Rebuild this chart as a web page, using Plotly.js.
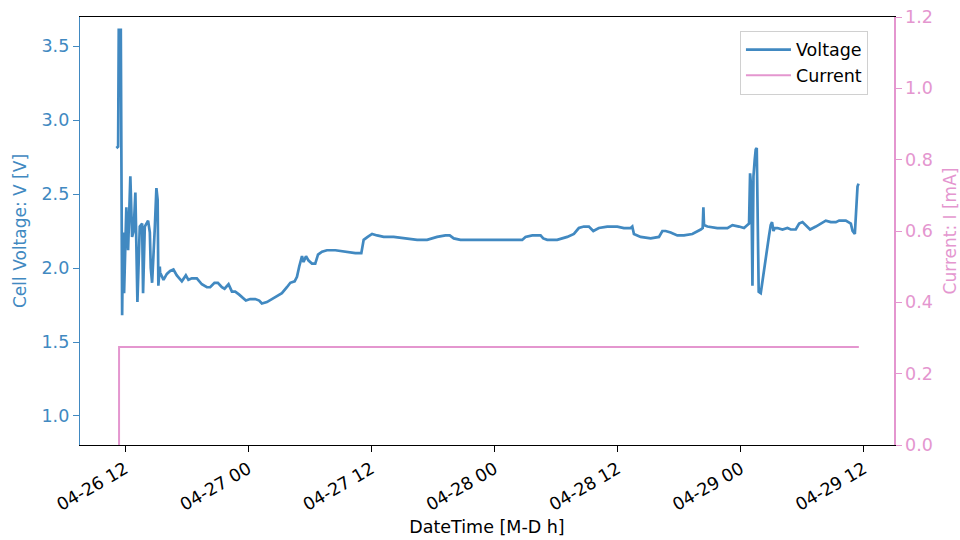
<!DOCTYPE html>
<html>
<head>
<meta charset="utf-8">
<script src="https://cdn.plot.ly/plotly-3.0.1.min.js"></script>
<style>
  html, body { margin: 0; padding: 0; background: #fff; }
  #chart { width: 960px; height: 540px; }
</style>
</head>
<body>
<div id="chart"></div>
<script>
// Logging start (local time), elapsed hours are measured from here
const logStart = [2023, 3, 26, 11, 7];

// Cell voltage log: elapsed hours and voltage [V]
const voltageHours = [
  0.03, 0.20, 0.26, 0.46, 0.59, 0.68, 0.78, 1.00, 1.17, 1.39, 1.56, 1.71, 1.88, 2.08, 2.31,
  2.54, 2.63, 2.80, 3.12, 3.29, 3.38, 3.51, 3.78, 3.93, 4.05, 4.12, 4.26, 4.29, 4.62, 4.95,
  5.27, 5.59, 5.92, 6.41, 6.80, 7.05, 7.38, 7.87, 8.36, 8.85, 9.17, 9.59, 9.92, 10.31, 10.57,
  10.96, 11.29, 11.61, 12.00, 12.32, 12.65, 13.07, 13.56, 13.95, 14.21, 14.70, 15.19, 15.68,
  16.16, 16.65, 16.98, 17.40, 17.63, 17.85, 18.12, 18.27, 18.51, 18.76, 19.09, 19.41, 19.68,
  20.07, 20.55, 21.37, 22.34, 23.32, 23.90, 24.03, 24.13, 24.52, 24.95, 25.44, 26.08, 27.05,
  28.03, 29.34, 30.31, 31.29, 32.10, 32.52, 32.91, 33.56, 34.54, 35.51, 36.81, 38.44, 39.58,
  39.90, 40.56, 41.37, 41.63, 42.02, 42.99, 43.97, 44.62, 45.10, 45.59, 46.08, 46.51, 47.05,
  47.87, 48.85, 49.49, 50.15, 50.31, 50.47, 51.12, 52.10, 52.91, 53.24, 53.56, 54.05, 54.70,
  55.34, 56.16, 56.98, 57.17, 57.24, 57.30, 57.63, 58.60, 59.58, 60.07, 60.71, 61.20, 61.53,
  61.69, 61.79, 61.92, 62.02, 62.12, 62.24, 62.34, 62.44, 62.51, 62.63, 62.83, 63.15, 63.41,
  63.64, 63.80, 63.93, 64.07, 64.20, 64.46, 64.95, 65.43, 65.76, 66.24, 66.57, 66.90, 67.22,
  67.64, 68.20, 68.68, 69.17, 69.66, 70.15, 70.47, 71.12, 71.61, 71.78, 72.00, 72.13, 72.26,
  72.36
];
const voltageValues = [
  2.81, 2.82, 3.61, 3.61, 1.68, 2.24, 1.83, 2.41, 2.12, 2.62, 2.21, 2.25, 2.51, 1.77, 2.28,
  2.30, 1.83, 2.28, 2.32, 2.24, 2.00, 1.90, 2.28, 2.54, 2.46, 1.88, 2.01, 1.97, 1.92, 1.96,
  1.98, 1.99, 1.95, 1.91, 1.95, 1.92, 1.93, 1.93, 1.89, 1.87, 1.87, 1.90, 1.90, 1.87, 1.86,
  1.89, 1.84, 1.84, 1.82, 1.80, 1.78, 1.79, 1.79, 1.78, 1.76, 1.77, 1.79, 1.81,
  1.83, 1.87, 1.90, 1.91, 1.94, 2.01, 2.08, 2.04, 2.08, 2.05, 2.03, 2.03, 2.09,
  2.11, 2.12, 2.12, 2.11, 2.10, 2.10, 2.15, 2.19, 2.21, 2.23, 2.22, 2.21, 2.21,
  2.20, 2.19, 2.19, 2.21, 2.22, 2.22, 2.20, 2.19, 2.19, 2.19, 2.19, 2.19, 2.19,
  2.21, 2.22, 2.22, 2.20, 2.19, 2.19, 2.21, 2.23, 2.27, 2.28, 2.28, 2.25, 2.27,
  2.28, 2.28, 2.27, 2.27, 2.28, 2.23, 2.21, 2.20, 2.21, 2.25, 2.25, 2.24, 2.22,
  2.22, 2.23, 2.26, 2.27, 2.41, 2.29, 2.28, 2.27, 2.27, 2.29, 2.28, 2.27, 2.29,
  2.30, 2.64, 2.53, 1.88, 2.62, 2.73, 2.80, 2.81, 2.30, 1.84, 1.83, 1.99, 2.14,
  2.22, 2.29, 2.31, 2.25, 2.27, 2.27, 2.26, 2.27, 2.26, 2.26, 2.30, 2.31, 2.29,
  2.26, 2.28, 2.30, 2.32, 2.31, 2.31, 2.32, 2.32, 2.30, 2.25, 2.23, 2.41, 2.55,
  2.57
];

// Applied current log: elapsed hours and current [mA]
const currentHours = [0.29, 0.29, 72.39];
const currentValues = [0.0, 0.275, 0.275];

// Axis limits
const timeRange = ['2023-04-26 07:36', '2023-04-29 14:56'];
const voltageRange = [0.804, 3.696];
const currentRange = [0, 1.2];

const voltageColor = '#4189c1';
const currentColor = '#e496cf';

function toStamp(h) {
  const base = Date.UTC(logStart[0], logStart[1], logStart[2], logStart[3], logStart[4]);
  return new Date(base + h * 3600000).toISOString().slice(0, 19).replace('T', ' ');
}

const font = 'DejaVu Sans, sans-serif';

const traces = [
  {
    x: voltageHours.map(toStamp), y: voltageValues,
    name: 'Voltage', type: 'scatter', mode: 'lines',
    line: { color: voltageColor, width: 2.7 },
    yaxis: 'y'
  },
  {
    x: currentHours.map(toStamp), y: currentValues,
    name: 'Current', type: 'scatter', mode: 'lines',
    line: { color: currentColor, width: 2 },
    yaxis: 'y2'
  }
];

const layout = {
  width: 960, height: 540,
  margin: { l: 80, r: 66, t: 17, b: 95 },
  paper_bgcolor: '#fff', plot_bgcolor: '#fff',
  font: { family: font, size: 17, color: '#000' },
  showlegend: true,
  legend: {
    x: 0.968, y: 0.968, xanchor: 'right', yanchor: 'top',
    bgcolor: 'rgba(255,255,255,0.8)', bordercolor: '#d0d0d0', borderwidth: 1,
    itemwidth: 45, tracegroupgap: 4,
    font: { family: font, size: 17.5, color: '#000' }
  },
  xaxis: {
    type: 'date', range: timeRange,
    tick0: '2023-04-26 00:00', dtick: 43200000, tickformat: '%m-%d %H',
    tickangle: -30, ticks: 'outside', ticklen: 6, tickcolor: '#000',
    showgrid: false, zeroline: false,
    showline: true, linecolor: '#000', linewidth: 1.2, mirror: true,
    tickfont: { family: font, size: 17.5, color: '#000' },
    title: { text: 'DateTime [M-D h]', font: { family: font, size: 17.5, color: '#000' }, standoff: 7 }
  },
  yaxis: {
    range: voltageRange, tick0: 1.0, dtick: 0.5, tickformat: '.1f',
    ticks: 'outside', ticklen: 6, tickcolor: voltageColor,
    showgrid: false, zeroline: false,
    showline: true, linecolor: voltageColor, linewidth: 1.2,
    tickfont: { family: font, size: 17.5, color: voltageColor },
    title: { text: 'Cell Voltage: V [V]', font: { family: font, size: 17, color: voltageColor }, standoff: 10 }
  },
  yaxis2: {
    range: currentRange, dtick: 0.2, tickformat: '.1f',
    overlaying: 'y', side: 'right', anchor: 'x',
    ticks: 'outside', ticklen: 6, tickcolor: currentColor,
    showgrid: false, zeroline: false,
    showline: true, linecolor: currentColor, linewidth: 1.5,
    tickfont: { family: font, size: 17.5, color: currentColor },
    title: { text: 'Current: I [mA]', font: { family: font, size: 17, color: currentColor }, standoff: 18 }
  }
};

Plotly.newPlot('chart', traces, layout, { displayModeBar: false, staticPlot: true });
</script>
</body>
</html>
